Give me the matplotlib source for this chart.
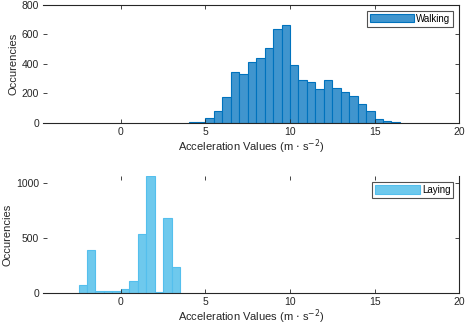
import numpy as np
import matplotlib
matplotlib.use('Agg')
import matplotlib.pyplot as plt

plt.rcParams['font.family'] = ['Liberation Sans', 'DejaVu Sans']
plt.rcParams['font.size'] = 7.5

# histogram bin edges (width 0.5) and counts
walking_edges = np.arange(4.0, 16.51, 0.5)
walking_counts = [7, 7, 32, 81, 174, 346, 332, 414, 441, 506, 635, 662,
                  391, 289, 278, 228, 289, 235, 212, 181, 127, 81, 27, 14, 7]

laying_edges = np.arange(-2.5, 3.51, 0.5)
laying_counts = [73, 390, 18, 18, 18, 36, 109, 535, 1065, 12, 680, 236]

xticks = [0, 5, 10, 15, 20]
xlabel = 'Acceleration Values (m $\\cdot$ s$^{-2}$)'
ylabel = 'Occurencies'

walk_face = (0.25, 0.585, 0.806)
walk_edge = '#0072BD'
lay_face = (0.43, 0.79, 0.93)
lay_edge = (0.33, 0.75, 0.93)

fig = plt.figure(figsize=(4.68, 3.28), dpi=100)
ax1 = fig.add_axes([0.092, 0.625, 0.889, 0.36])
ax2 = fig.add_axes([0.092, 0.107, 0.889, 0.356])

ax1.bar(walking_edges[:-1], walking_counts, width=0.5, align='edge',
        color=walk_face, edgecolor=walk_edge, linewidth=0.8, label='Walking')
ax2.bar(laying_edges[:-1], laying_counts, width=0.5, align='edge',
        color=lay_face, edgecolor=lay_edge, linewidth=0.8, label='Laying')

ax1.set_ylim(0, 800)
ax1.set_yticks([0, 200, 400, 600, 800])
ax2.set_ylim(0, 1065)
ax2.set_yticks([0, 500, 1000])

for ax in (ax1, ax2):
    ax.set_xlim(-4.6, 20)
    ax.set_xticks(xticks)
    ax.tick_params(direction='in', top=True, right=True, length=3,
                   width=0.6, labelsize=7.5, colors='#262626', pad=3)
    ax.spines['left'].set_visible(False)
    for s in ('bottom', 'right', 'top'):
        ax.spines[s].set_linewidth(0.8)
        ax.spines[s].set_color('#262626')
    ax.set_xlabel(xlabel, fontsize=8, color='#262626', labelpad=0.5)
    ax.set_ylabel(ylabel, fontsize=8, color='#262626', labelpad=2)
    leg = ax.legend(loc='upper right', fontsize=7, frameon=True, fancybox=False,
                    borderpad=0.3, handlelength=4.6, handleheight=0.9,
                    handletextpad=0.2, borderaxespad=0.6)
    leg.get_frame().set_edgecolor('#262626')
    leg.get_frame().set_linewidth(0.8)

ax2.spines['top'].set_visible(False)

plt.savefig('out.png', dpi=100)
